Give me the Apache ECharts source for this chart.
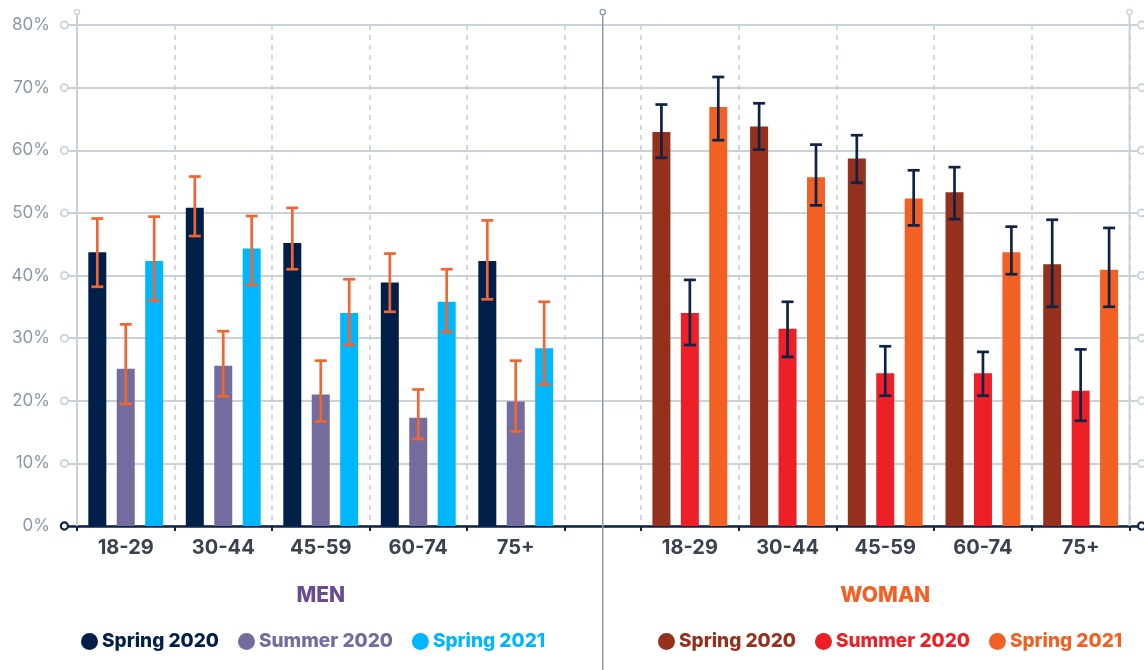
<!DOCTYPE html>
<html>
<head>
<meta charset="utf-8">
<script src="https://cdn.jsdelivr.net/npm/echarts@6/dist/echarts.min.js"></script>
<style>
  html, body { margin: 0; padding: 0; background: #ffffff; }
  #chart { width: 1144px; height: 670px; }
</style>
</head>
<body>
<div id="chart"></div>
<script>
// Age bands shown in each panel
const ageGroups = ['18-29', '30-44', '45-59', '60-74', '75+'];
const yTicks = [0, 10, 20, 30, 40, 50, 60, 70, 80];

// Men: shares (%) with confidence interval bounds
const menSpring2020 = [43.7, 50.8, 45.2, 38.9, 42.3];
const menSpring2020Low = [38.2, 46.3, 41.0, 34.2, 36.2];
const menSpring2020High = [49.1, 55.8, 50.8, 43.5, 48.8];

const menSummer2020 = [25.1, 25.6, 21.0, 17.3, 19.9];
const menSummer2020Low = [19.5, 20.7, 16.7, 13.9, 15.1];
const menSummer2020High = [32.2, 31.1, 26.4, 21.8, 26.4];

const menSpring2021 = [42.3, 44.3, 34.0, 35.8, 28.4];
const menSpring2021Low = [36.0, 38.5, 28.9, 31.0, 22.6];
const menSpring2021High = [49.4, 49.5, 39.4, 41.0, 35.8];

// Women: shares (%) with confidence interval bounds
const womenSpring2020 = [62.9, 63.8, 58.7, 53.3, 41.8];
const womenSpring2020Low = [58.8, 60.1, 54.8, 49.0, 35.0];
const womenSpring2020High = [67.3, 67.5, 62.4, 57.3, 48.9];

const womenSummer2020 = [34.0, 31.5, 24.4, 24.4, 21.6];
const womenSummer2020Low = [28.9, 27.0, 20.8, 20.8, 16.8];
const womenSummer2020High = [39.3, 35.8, 28.7, 27.8, 28.2];

const womenSpring2021 = [66.9, 55.7, 52.3, 43.7, 40.9];
const womenSpring2021Low = [61.6, 51.2, 48.0, 40.2, 35.0];
const womenSpring2021High = [71.7, 60.9, 56.8, 47.8, 47.6];

const seasonNames = ['Spring 2020', 'Summer 2020', 'Spring 2021'];

const FONT = 'Inter, "Open Sans", sans-serif';
const NAVY = '#0e2346';
const GRID_GREY = '#cad2d8';
const LABEL_GREY = '#8a99a5';
const BAR_W = 18;
const BAR_GAP = 0.58;

const menColors = ['#00204a', '#736c9e', '#00b6ff'];
const womenColors = ['#95301c', '#ed1f27', '#f26024'];
const menErrColor = '#ef6630';
const womenErrColor = '#0e2346';

const chart = echarts.init(document.getElementById('chart'), null, { renderer: 'canvas' });

function barSeries(label, values, color, axisIdx) {
  return {
    type: 'bar',
    name: label,
    xAxisIndex: axisIdx,
    yAxisIndex: axisIdx,
    data: values,
    barWidth: BAR_W,
    barGap: (BAR_GAP * 100) + '%',
    itemStyle: { color: color },
    emphasis: { disabled: true },
    z: 3
  };
}

function errorSeries(low, high, slot, color, axisIdx) {
  return {
    type: 'custom',
    xAxisIndex: axisIdx,
    yAxisIndex: axisIdx,
    data: low.map((l, i) => [i, l, high[i]]),
    encode: { x: 0, y: [1, 2] },
    z: 6,
    silent: true,
    renderItem: function (params, api) {
      const lo = api.coord([api.value(0), api.value(1)]);
      const hi = api.coord([api.value(0), api.value(2)]);
      const cx = lo[0] + slot * BAR_W * (1 + BAR_GAP);
      const cap = 6;
      const style = { stroke: color, lineWidth: 2.7 };
      return {
        type: 'group',
        children: [
          { type: 'line', shape: { x1: cx, y1: lo[1], x2: cx, y2: hi[1] }, style: style },
          { type: 'line', shape: { x1: cx - cap, y1: hi[1], x2: cx + cap, y2: hi[1] }, style: style },
          { type: 'line', shape: { x1: cx - cap, y1: lo[1], x2: cx + cap, y2: lo[1] }, style: style }
        ]
      };
    }
  };
}

function categoryAxis(gridIndex) {
  return {
    type: 'category',
    gridIndex: gridIndex,
    data: ageGroups,
    boundaryGap: true,
    axisLine: { show: false },
    axisTick: { show: true, length: 5, lineStyle: { color: NAVY, width: 2 } },
    axisLabel: { color: '#3a4250', fontFamily: FONT, fontWeight: 700, fontSize: 20, margin: 12 },
    splitLine: { show: true, lineStyle: { color: '#c4ccd3', width: 1.5, type: [5, 5] } }
  };
}

function hiddenValueAxis(gridIndex) {
  return { type: 'value', gridIndex: gridIndex, min: 0, max: 80, interval: 10, show: false };
}

const menSets = [
  [menSpring2020, menSpring2020Low, menSpring2020High],
  [menSummer2020, menSummer2020Low, menSummer2020High],
  [menSpring2021, menSpring2021Low, menSpring2021High]
];
const womenSets = [
  [womenSpring2020, womenSpring2020Low, womenSpring2020High],
  [womenSummer2020, womenSummer2020Low, womenSummer2020High],
  [womenSpring2021, womenSpring2021Low, womenSpring2021High]
];

const series = [];
menSets.forEach((s, k) => series.push(barSeries(seasonNames[k] + ' | Men', s[0], menColors[k], 1)));
womenSets.forEach((s, k) => series.push(barSeries(seasonNames[k] + ' | Women', s[0], womenColors[k], 2)));
menSets.forEach((s, k) => series.push(errorSeries(s[1], s[2], k - 1, menErrColor, 1)));
womenSets.forEach((s, k) => series.push(errorSeries(s[1], s[2], k - 1, womenErrColor, 2)));

function legendFor(side, colors, left) {
  return {
    left: left,
    top: 632,
    padding: 0,
    icon: 'circle',
    itemWidth: 17,
    itemHeight: 17,
    itemGap: 19,
    selectedMode: false,
    formatter: (name) => name.split(' | ')[0],
    textStyle: { fontFamily: FONT, fontWeight: 800, fontSize: 19, padding: [0, 0, 0, -1] },
    data: seasonNames.map((n, k) => ({
      name: n + ' | ' + side,
      textStyle: { color: colors[k] }
    }))
  };
}

chart.setOption({
  animation: false,
  backgroundColor: '#ffffff',
  grid: [
    { left: 68, right: 7, top: 25, bottom: 144 },
    { left: 77, right: 579.5, top: 25, bottom: 144 },
    { left: 641, right: 14.5, top: 25, bottom: 144 }
  ],
  xAxis: [
    {
      type: 'value', gridIndex: 0, min: 0, max: 1,
      axisLine: { show: true, lineStyle: { color: NAVY, width: 2.5 } },
      axisTick: { show: false }, axisLabel: { show: false }, splitLine: { show: false }
    },
    categoryAxis(1),
    categoryAxis(2)
  ],
  yAxis: [
    {
      type: 'value', gridIndex: 0, min: 0, max: 80, interval: 10,
      axisLine: { show: false }, axisTick: { show: false },
      axisLabel: {
        formatter: '{value}%', color: LABEL_GREY, fontFamily: FONT,
        fontWeight: 400, fontSize: 17, margin: 18
      },
      splitLine: { show: true, lineStyle: { color: GRID_GREY, width: 2 } }
    },
    hiddenValueAxis(1),
    hiddenValueAxis(2)
  ],
  legend: [legendFor('Men', menColors, 81), legendFor('Women', womenColors, 658)],
  series: series
});

// Frame decorations: panel rules, axis end markers and panel titles
(function addFrame() {
  const y0 = chart.convertToPixel({ yAxisIndex: 0 }, 0);
  const yTop = 12;
  const gridLeft = chart.convertToPixel({ xAxisIndex: 0 }, 0);
  const gridRight = chart.convertToPixel({ xAxisIndex: 0 }, 1);

  function panelEdges(axisIdx) {
    const first = chart.convertToPixel({ xAxisIndex: axisIdx }, ageGroups[0]);
    const last = chart.convertToPixel({ xAxisIndex: axisIdx }, ageGroups[ageGroups.length - 1]);
    const band = (last - first) / (ageGroups.length - 1);
    return [first - band / 2, last + band / 2];
  }
  const menEdges = panelEdges(1);
  const womenEdges = panelEdges(2);
  const divider = (menEdges[1] + womenEdges[0]) / 2;

  const els = [];
  const vRule = (x, yEnd, color, w) => {
    els.push({ type: 'line', z: 20, silent: true, shape: { x1: x, y1: yTop, x2: x, y2: yEnd }, style: { stroke: color, lineWidth: w } });
    els.push({ type: 'circle', z: 21, silent: true, shape: { cx: x, cy: yTop, r: 2.6 }, style: { fill: '#fff', stroke: color, lineWidth: 1.3 } });
  };
  vRule(menEdges[0], y0, GRID_GREY, 2);
  vRule(womenEdges[1], y0, GRID_GREY, 2);
  vRule(divider, 670, '#8c9ba7', 1.5);

  yTicks.forEach((v) => {
    const y = chart.convertToPixel({ yAxisIndex: 0 }, v);
    const stroke = v === 0 ? NAVY : GRID_GREY;
    const lw = v === 0 ? 2.2 : 1.8;
    [gridLeft - 3.6, gridRight + 4.6].forEach((cx) => {
      els.push({ type: 'circle', z: 22, silent: true, shape: { cx: cx, cy: y, r: 3.6 }, style: { fill: '#fff', stroke: stroke, lineWidth: lw } });
    });
  });

  els.push({
    type: 'text', z: 20, silent: true, x: (menEdges[0] + menEdges[1]) / 2, y: 596,
    style: { text: 'MEN', align: 'center', verticalAlign: 'middle', fill: '#6a4a92', fontFamily: FONT, fontWeight: 800, fontSize: 21 }
  });
  els.push({
    type: 'text', z: 20, silent: true, x: (womenEdges[0] + womenEdges[1]) / 2, y: 596,
    style: { text: 'WOMAN', align: 'center', verticalAlign: 'middle', fill: '#f26024', fontFamily: FONT, fontWeight: 800, fontSize: 21 }
  });

  chart.setOption({ graphic: els });
})();
</script>
</body>
</html>
